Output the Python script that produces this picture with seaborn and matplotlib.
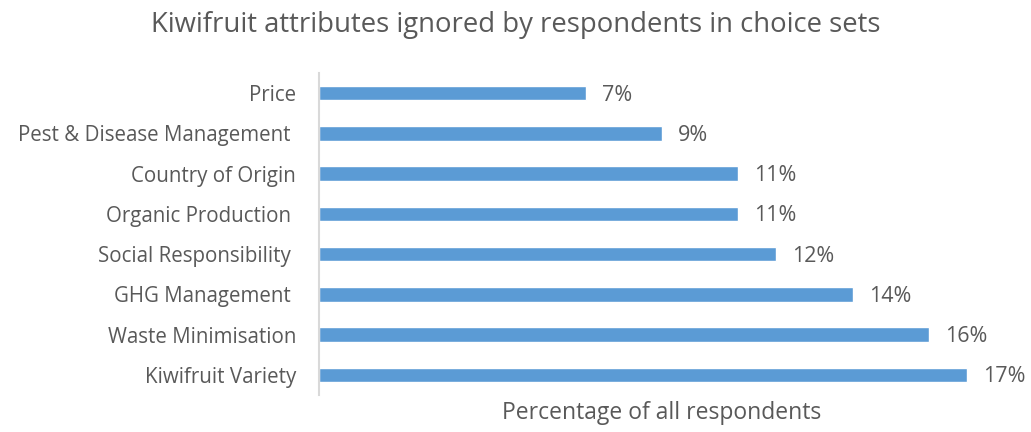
import pandas as pd
import seaborn as sns
import matplotlib.pyplot as plt

# Data
attributes = ['Price', 'Pest & Disease Management ', 'Country of Origin', 'Organic Production ',
              'Social Responsibility ', 'GHG Management ', 'Waste Minimisation', 'Kiwifruit Variety']
percent = [7, 9, 11, 11, 12, 14, 16, 17]

df = pd.DataFrame({'attribute': attributes, 'percent': percent})

sns.set_style('white')
plt.rcParams['font.family'] = ['Open Sans', 'DejaVu Sans']
text_color = '#595959'

fig = plt.figure(figsize=(10.31, 4.32), dpi=100)
ax = fig.add_axes([319 / 1031, 1 - 395 / 432, 686 / 1031, 322 / 432])

sns.barplot(data=df, x='percent', y='attribute', orient='h', color='#5B9BD5',
            saturation=1, width=0.36, ax=ax)

ax.set_xlim(0, 18)
ax.set_xticks([])
ax.tick_params(axis='y', length=0, pad=16.5, labelsize=14.8, labelcolor=text_color)
for side in ['top', 'right', 'bottom']:
    ax.spines[side].set_visible(False)
ax.spines['left'].set_color('#D9D9D9')
ax.spines['left'].set_linewidth(1.5)
ax.set_ylabel('')
ax.set_xlabel('Percentage of all respondents', fontsize=16.5, color=text_color, labelpad=4)

for i, v in enumerate(percent):
    ax.text(v + 0.42, i + 0.05, f'{v}%', va='center', ha='left', fontsize=15.5, color=text_color)

fig.suptitle('Kiwifruit attributes ignored by respondents in choice sets', fontsize=19.8,
             color=text_color, y=0.975)

fig.savefig('out.png', dpi=100)
